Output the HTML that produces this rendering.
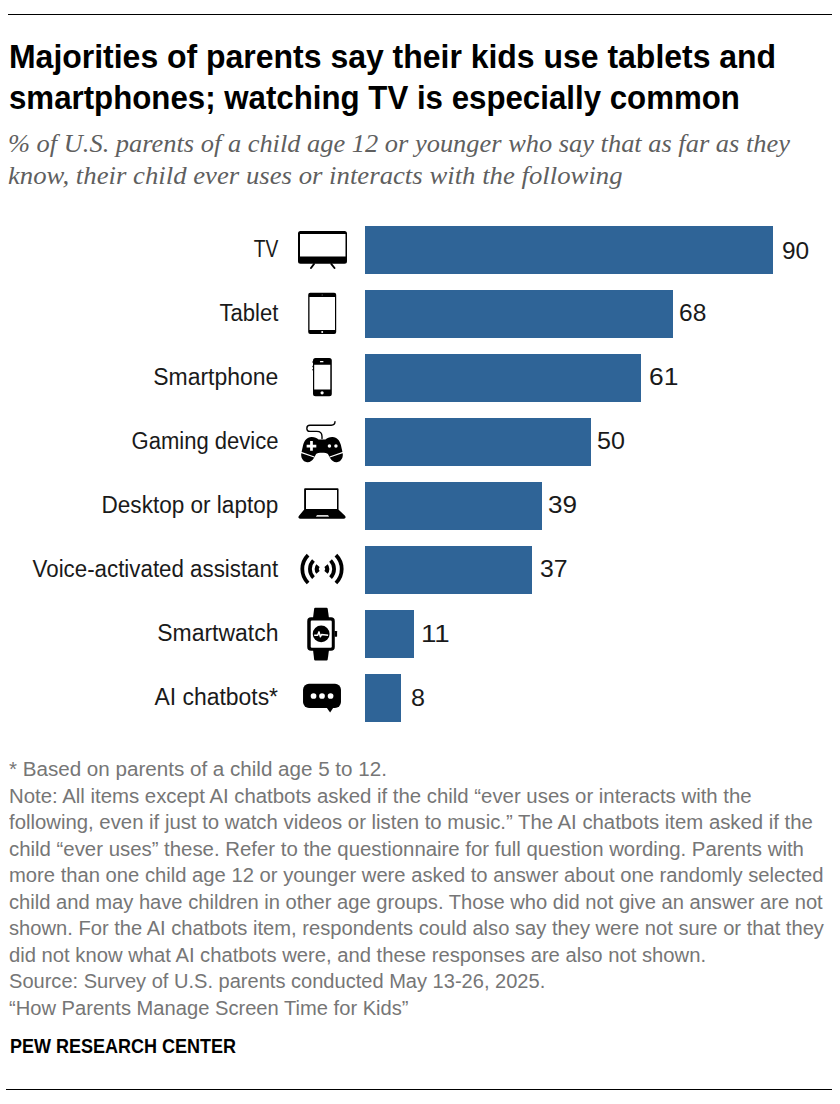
<!DOCTYPE html>
<html><head><meta charset="utf-8"><style>
html,body{margin:0;padding:0;background:#fff;}
body{width:840px;height:1104px;position:relative;overflow:hidden;font-family:"Liberation Sans",sans-serif;}
span{display:inline-block;white-space:nowrap;}
.rule{position:absolute;left:8px;width:824px;height:1px;background:#000;}
.t{position:absolute;left:9px;white-space:nowrap;font-weight:700;font-size:33px;line-height:40px;color:#000;}
.t span{transform-origin:0 0;}
.st{position:absolute;left:8px;white-space:nowrap;font-family:"Liberation Serif",serif;font-style:italic;font-size:25.5px;line-height:32px;color:#5f5f5f;}
.st span{transform-origin:0 0;}
.bar{position:absolute;left:364.6px;height:48px;background:#2f6497;}
.lab{position:absolute;right:562px;height:48px;line-height:48px;font-size:23px;color:#1a1a1a;white-space:nowrap;}
.lab span{transform-origin:100% 0;}
.num{position:absolute;height:48px;line-height:48px;font-size:23.5px;color:#1a1a1a;white-space:nowrap;}
.num span{transform-origin:0 0;}
.fl{position:absolute;left:9px;white-space:nowrap;font-size:19.5px;line-height:26px;color:#767676;}
.fl span{transform-origin:0 0;}
.pew{position:absolute;left:10px;top:1031.5px;white-space:nowrap;font-weight:700;font-size:20px;line-height:28px;color:#000;}
.pew span{transform-origin:0 0;}
svg{position:absolute;left:0;top:0;}
</style></head><body>
<div class="rule" style="top:14px"></div>
<div class="t" style="top:36.8px"><span style="transform:scaleX(0.9683)">Majorities of parents say their kids use tablets and</span></div>
<div class="t" style="top:77.9px"><span style="transform:scaleX(0.9467)">smartphones; watching TV is especially common</span></div>
<div class="st" style="top:128px"><span style="transform:scaleX(1.0359)">% of U.S. parents of a child age 12 or younger who say that as far as they</span></div>
<div class="st" style="top:160px"><span style="transform:scaleX(1.0488)">know, their child ever uses or interacts with the following</span></div>
<div class="bar" style="top:226px;width:408.4px"></div>
<div class="lab" style="top:225px"><span style="transform:scaleX(0.8345)">TV</span></div>
<div class="num" style="top:227.00px;left:781.90px"><span style="transform:scaleX(1.0400)">90</span></div>
<div class="bar" style="top:290px;width:308.6px"></div>
<div class="lab" style="top:289px"><span style="transform:scaleX(0.9590)">Tablet</span></div>
<div class="num" style="top:288.90px;left:678.87px"><span style="transform:scaleX(1.0440)">68</span></div>
<div class="bar" style="top:354px;width:276.8px"></div>
<div class="lab" style="top:353px"><span style="transform:scaleX(0.9976)">Smartphone</span></div>
<div class="num" style="top:352.75px;left:648.50px"><span style="transform:scaleX(1.1240)">61</span></div>
<div class="bar" style="top:418px;width:226.9px"></div>
<div class="lab" style="top:417px"><span style="transform:scaleX(0.9576)">Gaming device</span></div>
<div class="num" style="top:416.85px;left:597.29px"><span style="transform:scaleX(1.0680)">50</span></div>
<div class="bar" style="top:482px;width:177.0px"></div>
<div class="lab" style="top:481px"><span style="transform:scaleX(0.9803)">Desktop or laptop</span></div>
<div class="num" style="top:480.70px;left:547.97px"><span style="transform:scaleX(1.1100)">39</span></div>
<div class="bar" style="top:546px;width:167.9px"></div>
<div class="lab" style="top:545px"><span style="transform:scaleX(0.9700)">Voice-activated assistant</span></div>
<div class="num" style="top:544.90px;left:539.80px"><span style="transform:scaleX(1.0560)">37</span></div>
<div class="bar" style="top:610px;width:49.9px"></div>
<div class="lab" style="top:609px"><span style="transform:scaleX(0.9979)">Smartwatch</span></div>
<div class="num" style="top:609.85px;left:420.92px"><span style="transform:scaleX(1.1800)">11</span></div>
<div class="bar" style="top:674px;width:36.3px"></div>
<div class="lab" style="top:673px"><span style="transform:scaleX(0.9968)">AI chatbots*</span></div>
<div class="num" style="top:674.20px;left:411.30px"><span style="transform:scaleX(1.0700)">8</span></div>
<svg width="840" height="1104" viewBox="0 0 840 1104">

<!-- TV -->
<path fill="#000" fill-rule="evenodd" d="M300.5 231 H344.5 Q347 231 347 233.5 V261.3 Q347 263.8 344.5 263.8 H300.5 Q298 263.8 298 261.3 V233.5 Q298 231 300.5 231 Z M300 234 V256.5 H345.5 V234 Z"/>
<path stroke="#000" stroke-width="2" stroke-linecap="round" fill="none" d="M314 264 L311 268 M331.3 264 L334.5 268"/>
<!-- Tablet -->
<path fill="#000" fill-rule="evenodd" d="M310.2 292.8 H334.2 Q336.2 292.8 336.2 294.8 V332 Q336.2 334 334.2 334 H310.2 Q308.2 334 308.2 332 V294.8 Q308.2 292.8 310.2 292.8 Z M309.5 297 V329.9 H335 V297 Z"/>
<circle cx="322.2" cy="295" r="0.7" fill="#555"/>
<circle cx="322.2" cy="332" r="1" fill="#fff"/>
<!-- Phone -->
<path fill="#000" fill-rule="evenodd" d="M315.5 358.1 H329.3 Q331.8 358.1 331.8 360.6 V393.7 Q331.8 396.2 329.3 396.2 H315.5 Q313 396.2 313 393.7 V360.6 Q313 358.1 315.5 358.1 Z M314.2 364.7 V389.4 H330.3 V364.7 Z"/>
<rect x="312.4" y="361.3" width="0.7" height="1.4" fill="#000"/>
<rect x="312.4" y="365.8" width="0.7" height="1.4" fill="#000"/>
<rect x="312.4" y="369" width="0.7" height="1.4" fill="#000"/>
<rect x="319.9" y="361.1" width="3.6" height="1.2" rx="0.6" fill="#fff"/>
<circle cx="322.1" cy="392.8" r="1.6" fill="#fff"/>
<!-- Gamepad -->
<g transform="translate(296 416) scale(0.06192)">
<path fill="none" stroke="#000" stroke-width="22" stroke-linecap="round" d="M630 90 C630 130 610 150 570 150 L225 150 C190 150 175 175 175 200 C175 225 195 248 225 248 L335 248 C385 248 420 280 420 330 L420 365"/>
<path fill="#000" d="M250 340 C300 338 335 358 365 378 L475 378 C505 358 540 338 590 340 C665 345 705 395 725 470 L752 590 C770 660 735 742 660 745 C610 748 578 720 558 690 L515 612 C495 588 345 588 325 612 L282 690 C262 720 230 748 180 745 C105 742 70 660 88 590 L115 470 C135 395 175 345 250 340 Z"/>
<path fill="#fff" d="M228 405 H272 V463 H328 V507 H272 V562 H228 V507 H172 V463 H228 Z"/>
<circle cx="540" cy="485" r="28" fill="#fff"/>
<circle cx="645" cy="485" r="28" fill="#fff"/>
<path stroke="#fff" stroke-width="20" fill="none" d="M80 588 L295 662 M545 662 L760 588"/>
</g>
<!-- Laptop -->
<g transform="translate(294 482) scale(0.066667)">
<path fill="#000" fill-rule="evenodd" d="M165 95 H655 Q668 95 668 108 V425 H152 V108 Q152 95 165 95 Z M180 120 V405 H645 V120 Z"/>
<path fill="#000" d="M150 418 H670 L765 505 Q782 522 770 540 Q762 552 745 552 H95 Q78 552 70 540 Q58 522 75 505 Z"/>
<path fill="#d8d8d8" d="M345 495 H510 L527 522 H328 Z"/>
</g>
<!-- Voice -->
<g transform="translate(296 548) scale(0.06192)" fill="none" stroke="#000">
<path d="M195.1 564.9 A318 318 0 0 1 195.1 115.1" stroke-width="61"/><path d="M644.9 115.1 A318 318 0 0 1 644.9 564.9" stroke-width="61"/><path d="M282.1 477.9 A195 195 0 0 1 282.1 202.1" stroke-width="61"/><path d="M557.9 202.1 A195 195 0 0 1 557.9 477.9" stroke-width="61"/><path d="M354.9 394.6 A85 85 0 0 1 354.9 285.4" stroke-width="68"/><path d="M485.1 285.4 A85 85 0 0 1 485.1 394.6" stroke-width="68"/>
</g>
<!-- Watch -->
<g transform="translate(300 602) scale(0.05797)">
<path fill="#000" d="M262 100 H458 Q475 100 478 118 L500 275 H225 L244 118 Q247 100 262 100 Z"/>
<path fill="#000" d="M225 830 H500 L478 990 Q475 1010 458 1010 H262 Q247 1010 244 990 Z"/>
<path fill="#000" fill-rule="evenodd" d="M190 265 H535 Q600 265 600 330 V775 Q600 840 535 840 H190 Q125 840 125 775 V330 Q125 265 190 265 Z M205 320 Q185 320 185 340 V770 Q185 790 205 790 H528 Q548 790 548 770 V340 Q548 320 528 320 Z"/>
<rect x="595" y="500" width="45" height="100" rx="8" fill="#000"/>
<circle cx="365" cy="550" r="145" fill="#000"/>
<path fill="none" stroke="#fff" stroke-width="26" stroke-linejoin="round" d="M245 572 H305 L328 515 L352 598 L372 562 L485 572"/>
</g>
<!-- Chat -->
<g transform="translate(298 678) scale(0.05714)">
<rect x="88" y="100" width="664" height="425" rx="105" fill="#000"/>
<path fill="#000" d="M500 515 H620 L562 605 Z"/>
<circle cx="272" cy="315" r="50" fill="#fff"/>
<circle cx="420" cy="315" r="50" fill="#fff"/>
<circle cx="570" cy="315" r="50" fill="#fff"/>
</g>

</svg>
<div class="fl" style="top:756.00px"><span style="transform:scaleX(1.0563)">* Based on parents of a child age 5 to 12.</span></div>
<div class="fl" style="top:782.50px"><span style="transform:scaleX(1.0445)">Note: All items except AI chatbots asked if the child “ever uses or interacts with the</span></div>
<div class="fl" style="top:809.00px"><span style="transform:scaleX(1.0421)">following, even if just to watch videos or listen to music.” The AI chatbots item asked if the</span></div>
<div class="fl" style="top:835.50px"><span style="transform:scaleX(1.0447)">child “ever uses” these. Refer to the questionnaire for full question wording. Parents with</span></div>
<div class="fl" style="top:862.00px"><span style="transform:scaleX(1.0364)">more than one child age 12 or younger were asked to answer about one randomly selected</span></div>
<div class="fl" style="top:888.50px"><span style="transform:scaleX(1.0330)">child and may have children in other age groups. Those who did not give an answer are not</span></div>
<div class="fl" style="top:915.00px"><span style="transform:scaleX(1.0327)">shown. For the AI chatbots item, respondents could also say they were not sure or that they</span></div>
<div class="fl" style="top:941.50px"><span style="transform:scaleX(1.0371)">did not know what AI chatbots were, and these responses are also not shown.</span></div>
<div class="fl" style="top:968.00px"><span style="transform:scaleX(1.0285)">Source: Survey of U.S. parents conducted May 13-26, 2025.</span></div>
<div class="fl" style="top:994.50px"><span style="transform:scaleX(1.0327)">“How Parents Manage Screen Time for Kids”</span></div>
<div class="pew"><span style="transform:scaleX(0.9000)">PEW RESEARCH CENTER</span></div>
<div class="rule" style="top:1089px;left:6px;width:826px"></div>
</body></html>
